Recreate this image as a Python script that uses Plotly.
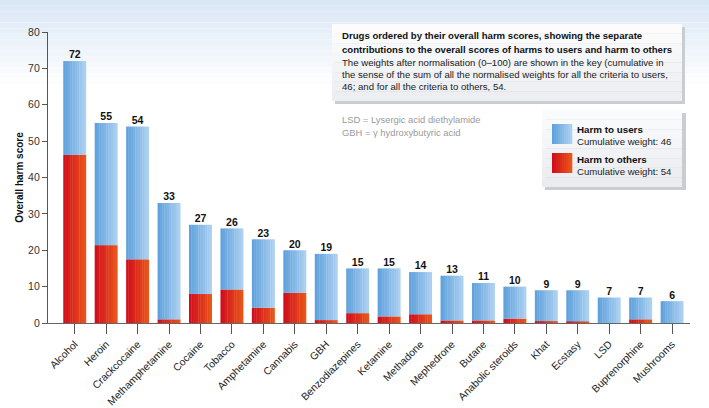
import plotly.graph_objects as go

drugs = ["Alcohol", "Heroin", "Crackcocaine", "Methamphetamine", "Cocaine", "Tobacco",
         "Amphetamine", "Cannabis", "GBH", "Benzodiazepines", "Ketamine", "Methadone",
         "Mephedrone", "Butane", "Anabolic steroids", "Khat", "Ecstasy", "LSD",
         "Buprenorphine", "Mushrooms"]
overall = [72, 55, 54, 33, 27, 26, 23, 20, 19, 15, 15, 14, 13, 11, 10, 9, 9, 7, 7, 6]
harm_to_others = [46.2, 21.4, 17.5, 1.0, 8.0, 9.2, 4.2, 8.3, 0.8, 2.7, 1.8, 2.4,
                  0.7, 0.7, 1.2, 0.5, 0.4, 0.0, 1.0, 0.0]
harm_to_users = [round(t - o, 2) for t, o in zip(overall, harm_to_others)]

W, H = 709, 408
L, R, T, B = 48, 19, 32, 85
PW, PH = W - L - R, H - T - B


def px(p):
    return (p - L) / PW


def py(p):
    return (H - B - p) / PH


def lerp(c1, c2, t):
    return "rgb(%d,%d,%d)" % tuple(round(a + (b - a) * t) for a, b in zip(c1, c2))


BLUE_L, BLUE_R = (96, 162, 221), (172, 208, 240)
RED_L, RED_R = (208, 14, 28), (233, 84, 26)

fig = go.Figure()
bw = 0.73
n = 10
sw = bw / n
for i in range(n):
    t = i / (n - 1)
    off = -bw / 2 + i * sw if i < n - 1 else -bw / 2 + i * sw - sw * 0.15
    fig.add_trace(go.Bar(x=drugs, y=harm_to_others, base=0, width=sw * 1.15, offset=off,
                         marker=dict(color=lerp(RED_L, RED_R, t), line=dict(width=0)),
                         showlegend=False, hoverinfo="skip"))
    fig.add_trace(go.Bar(x=drugs, y=harm_to_users, base=harm_to_others, width=sw * 1.15, offset=off,
                         marker=dict(color=lerp(BLUE_L, BLUE_R, t), line=dict(width=0)),
                         showlegend=False, hoverinfo="skip"))

FONT = "Liberation Sans, Arial, Helvetica, sans-serif"

fig.add_trace(go.Scatter(x=drugs, y=overall, mode="text",
                         text=["<b>%d</b>" % v for v in overall],
                         textposition="top center",
                         textfont=dict(family=FONT, size=10.5, color="#111"),
                         showlegend=False, hoverinfo="skip", cliponaxis=False))

shapes = []
steps = 16
for k in range(steps):
    y0p = k * 90 / steps
    y1p = (k + 1) * 90 / steps
    t = k / (steps - 1)
    shapes.append(dict(type="rect", xref="paper", yref="paper", layer="below",
                       x0=px(0), x1=px(W), y0=py(y1p), y1=py(y0p),
                       fillcolor=lerp((218, 231, 245), (255, 255, 255), t), line=dict(width=0)))

# text box with shadow
shapes.append(dict(type="rect", xref="paper", yref="paper", layer="below",
                   x0=px(335), x1=px(685), y0=py(104), y1=py(27),
                   fillcolor="#c9ccd0", line=dict(width=0)))
for k in range(8):
    t = k / 7
    ya = 24 + k * (101 - 24) / 8
    yb = 24 + (k + 1) * (101 - 24) / 8
    shapes.append(dict(type="rect", xref="paper", yref="paper", layer="below",
                       x0=px(332), x1=px(682), y0=py(yb), y1=py(ya),
                       fillcolor=lerp((252, 252, 253), (236, 238, 241), t), line=dict(width=0)))
# legend box with shadow
shapes.append(dict(type="rect", xref="paper", yref="paper", layer="below",
                   x0=px(545), x1=px(686), y0=py(190), y1=py(113),
                   fillcolor="#c9ccd0", line=dict(width=0)))
for k in range(8):
    t = k / 7
    ya = 110 + k * (187 - 110) / 8
    yb = 110 + (k + 1) * (187 - 110) / 8
    shapes.append(dict(type="rect", xref="paper", yref="paper", layer="below",
                       x0=px(542), x1=px(682), y0=py(yb), y1=py(ya),
                       fillcolor=lerp((250, 251, 252), (234, 236, 239), t), line=dict(width=0)))
for k in range(10):
    t = k / 9
    xa = 552 + k * 2
    shapes.append(dict(type="rect", xref="paper", yref="paper",
                       x0=px(xa), x1=px(xa + 2.3), y0=py(144), y1=py(124),
                       fillcolor=lerp(BLUE_L, BLUE_R, t), line=dict(width=0)))
    shapes.append(dict(type="rect", xref="paper", yref="paper",
                       x0=px(xa), x1=px(xa + 2.3), y0=py(173), y1=py(153),
                       fillcolor=lerp(RED_L, RED_R, t), line=dict(width=0)))

ann = []


def note(x, y, text, size, color="#111", bold=False):
    if bold:
        text = "<b>" + text + "</b>"
    ann.append(dict(xref="paper", yref="paper", x=px(x), y=py(y), text=text,
                    showarrow=False, xanchor="left", yanchor="middle", align="left",
                    borderpad=0, font=dict(family=FONT, size=size, color=color)))


note(341, 35.5, "Drugs ordered by their overall harm scores, showing the separate", 9.6, "#111", True)
note(341, 49, "contributions to the overall scores of harms to users and harm to others", 9.6, "#111", True)
note(341, 63, "The weights after normalisation (0\u2013100) are shown in the key (cumulative in", 9.6, "#222")
note(341, 74.5, "the sense of the sum of all the normalised weights for all the criteria to users,", 9.6, "#222")
note(341, 86, "46; and for all the criteria to others, 54.", 9.6, "#222")
note(341, 119, "LSD = Lysergic acid diethylamide", 9.4, "#9a9a9a")
note(341, 132.5, "GBH = \u03b3 hydroxybutyric acid", 9.4, "#9a9a9a")
note(576, 129, "Harm to users", 9.8, "#111", True)
note(576, 141, "Cumulative weight: 46", 9.6, "#222")
note(576, 159, "Harm to others", 9.8, "#111", True)
note(576, 171, "Cumulative weight: 54", 9.6, "#222")

fig.update_layout(
    width=W, height=H,
    margin=dict(l=L, r=R, t=T, b=B, pad=0, autoexpand=False),
    barmode="overlay",
    paper_bgcolor="white",
    plot_bgcolor="rgba(0,0,0,0)",
    font=dict(family=FONT, color="#222"),
    shapes=shapes,
    annotations=ann,
    xaxis=dict(range=[-0.85, 19.57], showgrid=False, zeroline=False, showline=True,
               linecolor="#666", linewidth=1.2, ticks="outside", ticklen=10, tickcolor="#555",
               tickwidth=1, tickangle=-45, tickfont=dict(family=FONT, size=10.4, color="#222"),
               automargin=False, fixedrange=True),
    yaxis=dict(range=[0, 80], dtick=10, showgrid=False, zeroline=False, showline=True,
               linecolor="#555", linewidth=1.2, ticks="outside", ticklen=5, tickcolor="#555",
               tickfont=dict(family=FONT, size=10.5, color="#333"),
               title=dict(text="<b>Overall harm score</b>", font=dict(family=FONT, size=10, color="#111"),
                          standoff=2),
               automargin=False, fixedrange=True),
)

fig.write_html("out.html", config={"displayModeBar": False},
               post_script="document.body.style.margin='0';document.body.style.padding='0';")
